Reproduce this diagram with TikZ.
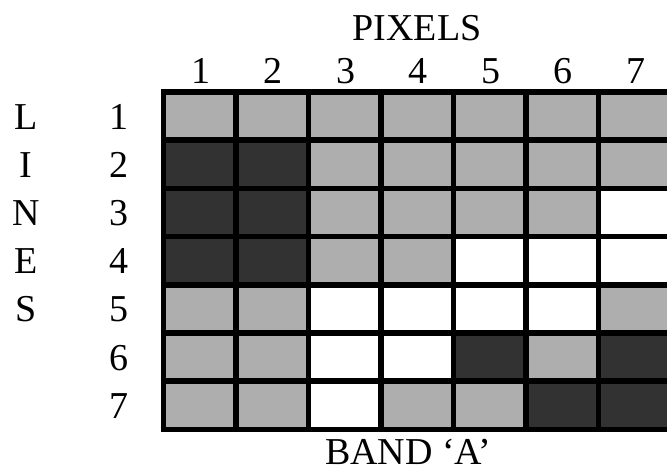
\documentclass[tikz,border=0pt]{standalone}
\usepackage{fontspec}
\setmainfont{Liberation Serif}
\definecolor{lg}{RGB}{174,174,174}
\definecolor{dg}{RGB}{50,50,50}
\tikzset{
  lbl/.style={anchor=base, inner sep=0pt, font=\fontsize{38}{38}\selectfont},
  gridline/.style={line width=5.5pt, black}
}
\begin{document}
\begin{tikzpicture}[x=1pt, y=-1pt]
\clip (0,0) rectangle (667,471);
\fill[white] (0,0) rectangle (667,471);
% cell colours: L light, D dark, W white
\def\cx{163.5}\def\cy{92}\def\cw{72.5}\def\ch{48.2}
\foreach \row/\cells in {0/{L,L,L,L,L,L,L},1/{D,D,L,L,L,L,L},2/{D,D,L,L,L,L,W},3/{D,D,L,L,W,W,W},4/{L,L,W,W,W,W,L},5/{L,L,W,W,D,L,D},6/{L,L,W,L,L,D,D}}{
  \foreach \c [count=\i from 0] in \cells {
    \if\c D\def\col{dg}\fi
    \if\c W\def\col{white}\fi
    \if\c L\def\col{lg}\fi
    \fill[\col] ({\cx+\cw*\i},{\cy+\ch*\row}) rectangle ({\cx+\cw*(\i+1)},{\cy+\ch*(\row+1)});
  }
}
% grid lines
\foreach \i in {0,...,7} {
  \draw[gridline] ({\cx+\cw*\i},{\cy-2.75}) -- ({\cx+\cw*\i},{\cy+7*\ch+2.75});
}
\foreach \j in {0,...,7} {
  \draw[gridline] ({\cx-2.75},{\cy+\ch*\j}) -- ({\cx+7*\cw+2.75},{\cy+\ch*\j});
}
% labels
\node[lbl] (pixels) at (417,40) {PIXELS};
\foreach \i in {1,...,7} {
  \node[lbl] (c\i) at ({\cx+\cw*(\i-0.5)+1},83) {\i};
  \node[lbl] (r\i) at (119,{\cy+\ch*(\i-0.5)+13}) {\i};
}
\foreach \t [count=\i] in {L,I,N,E,S} {
  \node[lbl] (l\i) at (26,{\cy+\ch*(\i-0.5)+13}) {\t};
}
\node[lbl] (band) at (408,464) {BAND ‘A’};
\end{tikzpicture}
\end{document}
